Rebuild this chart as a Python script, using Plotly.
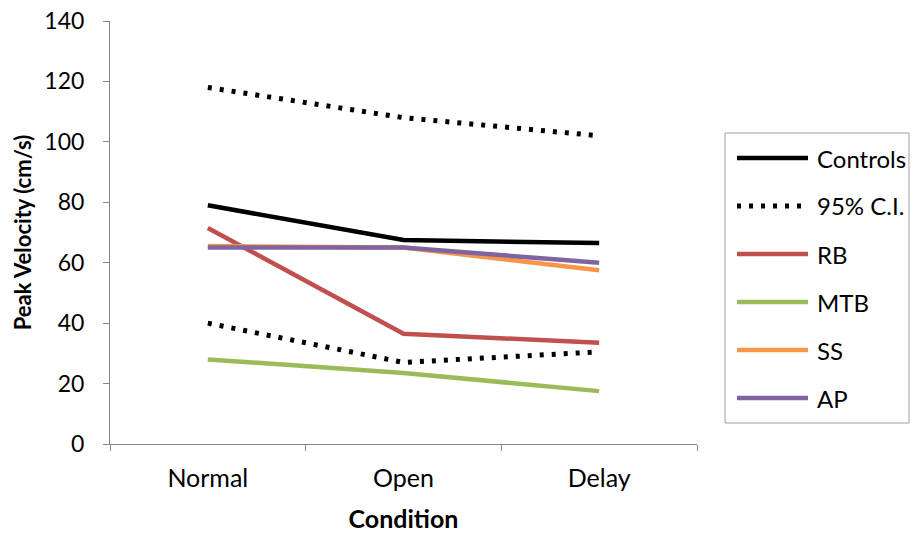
import plotly.graph_objects as go

conditions = ["Normal", "Open", "Delay"]
controls = [79, 67.5, 66.5]
ci_upper = [118, 108, 102]
ci_lower = [40, 27, 30.5]
rb = [71.5, 36.5, 33.5]
mtb = [28, 23.5, 17.5]
ss = [65.5, 65, 57.5]
ap = [65, 65, 60]

legend_names = ["Controls", "95% C.I.", "RB", "MTB", "SS", "AP"]
legend_colors = ["#000000", "#000000", "#C0504D", "#9BBB59", "#F79646", "#8064A2"]
legend_dashes = ["solid", "4px,8px", "solid", "solid", "solid", "solid"]

FONT = "Lato, 'Open Sans', sans-serif"
DOT = "4px,8px"
fig = go.Figure()

def add(name, y, color, dash="solid", width=4.5, group=None):
    fig.add_trace(go.Scatter(
        x=conditions, y=y, name=name, mode="lines",
        line=dict(color=color, width=width, dash=dash),
        showlegend=False, legendgroup=group or name,
    ))

add("Controls", controls, "#000000")
add("95% C.I.", ci_upper, "#000000", dash=DOT, width=5, group="ci")
add("95% C.I.", ci_lower, "#000000", dash=DOT, width=5, group="ci")
add("RB", rb, "#C0504D")
add("MTB", mtb, "#9BBB59")
add("SS", ss, "#F79646")
add("AP", ap, "#8064A2")

# plot area geometry (pixels)
PL, PR, PT, PB = 110, 697, 21, 444
PW, PH = PR - PL, PB - PT
def px(X):
    return (X - PL) / PW
def py(Y):
    return (PB - Y) / PH

shapes = [dict(type="rect", xref="paper", yref="paper",
               x0=px(725), x1=px(909), y0=py(423), y1=py(133),
               line=dict(color="#A0A0A0", width=1), fillcolor="white", layer="below")]
annotations = []
for i, (nm, col, ds) in enumerate(zip(legend_names, legend_colors, legend_dashes)):
    Y = 158 + i * 48
    shapes.append(dict(type="line", xref="paper", yref="paper",
                       x0=px(737), x1=px(808), y0=py(Y), y1=py(Y),
                       line=dict(color=col, width=5 if ds != "solid" else 4.5, dash=ds)))
    annotations.append(dict(xref="paper", yref="paper", x=px(815), y=py(Y),
                            text=nm, showarrow=False, xanchor="left", yanchor="middle",
                            font=dict(size=24, family=FONT, color="#000000")))

fig.update_layout(
    width=912, height=536,
    margin=dict(l=PL, r=912 - PR, t=PT, b=536 - PB),
    paper_bgcolor="white", plot_bgcolor="white",
    font=dict(family=FONT, size=22, color="#000000"),
    showlegend=False,
    shapes=shapes,
    annotations=annotations,
    xaxis=dict(
        range=[-0.5, 2.5], automargin=False,
        showline=True, linecolor="#868686", linewidth=1,
        ticks="outside", ticklen=6, tickcolor="#868686",
        tickson="boundaries", showgrid=False, zeroline=False,
        tickfont=dict(size=25, family=FONT),
        ticklabelstandoff=12,
        title=dict(text="<b>Condition</b>", font=dict(size=25, family=FONT), standoff=19),
    ),
    yaxis=dict(
        range=[0, 140], dtick=20, automargin=False,
        showline=True, linecolor="#868686", linewidth=1,
        ticks="outside", ticklen=6, tickcolor="#868686",
        showgrid=False, zeroline=False,
        tickfont=dict(size=23, family=FONT),
        ticklabelstandoff=14, ticklabeloverflow="allow",
        title=dict(text="<b>Peak Velocity (cm/s)</b>", font=dict(size=22, family=FONT), standoff=6),
    ),
)

fig.write_html("out.html", config={"displayModeBar": False},
               post_script="document.body.style.margin='0';")
